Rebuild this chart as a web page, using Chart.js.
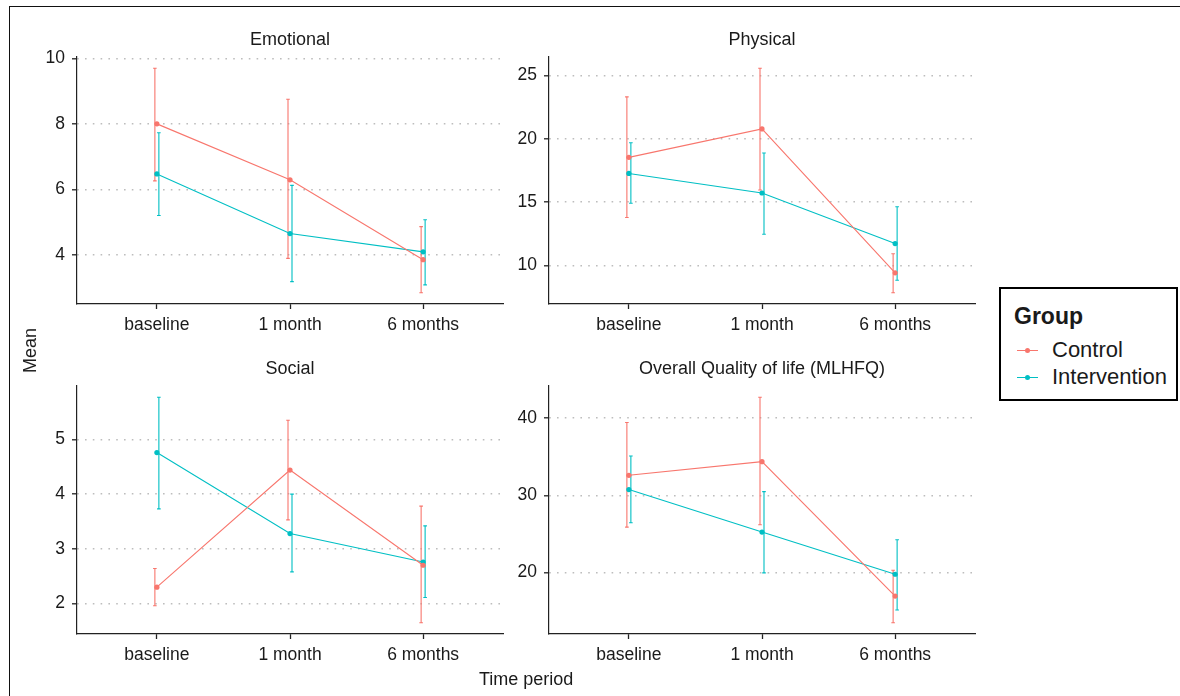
<!DOCTYPE html>
<html>
<head>
<meta charset="utf-8">
<script src="https://cdn.jsdelivr.net/npm/chart.js@4.4.1/dist/chart.umd.min.js"></script>
<style>
  body { margin: 0; background: #fff; width: 1180px; height: 696px; overflow: hidden; position: relative;
         font-family: "Liberation Sans", Arial, sans-serif; color: #1a1a1a; }
  canvas { position: absolute; }
  #frame { position: absolute; left: 9px; top: 6px; width: 1200px; height: 720px;
           border-left: 1.5px solid #111; border-top: 1.5px solid #111; }
  .axisTitle { position: absolute; font-size: 18px; white-space: nowrap; }
  #legend { position: absolute; left: 999px; top: 287px; width: 179px; height: 114px;
            box-sizing: border-box; border: 2px solid #000; background: #fff; }
  #legend .ttl { position: absolute; left: 13px; top: 14px; font-size: 23px; font-weight: bold; }
  #legend .item { position: absolute; left: 0; height: 26px; width: 175px; }
  #legend .ln { position: absolute; left: 16px; top: 12.5px; width: 21px; height: 1.3px; }
  #legend .dot { position: absolute; left: 23.5px; top: 10.5px; width: 5px; height: 5px; border-radius: 50%; }
  #legend .lbl { position: absolute; left: 51px; top: 0; font-size: 22px; line-height: 26px; }
</style>
</head>
<body>
<div id="frame"></div>
<canvas id="c1"></canvas>
<canvas id="c2"></canvas>
<canvas id="c3"></canvas>
<canvas id="c4"></canvas>
<div class="axisTitle" id="yTitle">Mean</div>
<div class="axisTitle" id="xTitle">Time period</div>
<div id="legend"><div class="ttl">Group</div></div>
<script>
// categories and groups
const categories = ['baseline', '1 month', '6 months'];
const groups = ['Control', 'Intervention'];
const groupColors = ['#F8766D', '#00BFC4'];
const panelTitles = ['Emotional', 'Physical', 'Social', 'Overall Quality of life (MLHFQ)'];

// Emotional
const emotionalControl = [8.0, 6.29, 3.85];
const emotionalControlLow = [6.26, 3.89, 2.84];
const emotionalControlHigh = [9.70, 8.75, 4.86];
const emotionalIntervention = [6.47, 4.65, 4.09];
const emotionalInterventionLow = [5.20, 3.18, 3.08];
const emotionalInterventionHigh = [7.73, 6.12, 5.07];
const emotionalTicks = [4, 6, 8, 10];

// Physical
const physicalControl = [18.54, 20.78, 9.43];
const physicalControlLow = [13.80, 15.96, 7.86];
const physicalControlHigh = [23.31, 25.57, 10.94];
const physicalIntervention = [17.27, 15.73, 11.74];
const physicalInterventionLow = [14.92, 12.47, 8.85];
const physicalInterventionHigh = [19.69, 18.88, 14.64];
const physicalTicks = [10, 15, 20, 25];

// Social
const socialControl = [2.30, 4.44, 2.70];
const socialControlLow = [1.96, 3.53, 1.65];
const socialControlHigh = [2.64, 5.35, 3.78];
const socialIntervention = [4.76, 3.28, 2.76];
const socialInterventionLow = [3.73, 2.58, 2.11];
const socialInterventionHigh = [5.77, 4.00, 3.42];
const socialTicks = [2, 3, 4, 5];

// Overall (MLHFQ)
const overallControl = [32.6, 34.37, 16.95];
const overallControlLow = [25.89, 26.19, 13.5];
const overallControlHigh = [39.44, 42.71, 20.3];
const overallIntervention = [30.75, 25.25, 19.78];
const overallInterventionLow = [26.45, 19.96, 15.14];
const overallInterventionHigh = [35.1, 30.49, 24.26];
const overallTicks = [20, 30, 40];

const FONT = '"Liberation Sans", Arial, sans-serif';
const TEXT = '#1a1a1a';
const AXIS = '#222';
const dodge = [-0.015, 0.015];

const panels = [
    { id: 'c1', title: panelTitles[0], ticks: emotionalTicks,
      means: [emotionalControl, emotionalIntervention],
      lows: [emotionalControlLow, emotionalInterventionLow],
      highs: [emotionalControlHigh, emotionalInterventionHigh],
      area: { left: 77, top: 57, right: 503, bottom: 304 } },
    { id: 'c2', title: panelTitles[1], ticks: physicalTicks,
      means: [physicalControl, physicalIntervention],
      lows: [physicalControlLow, physicalInterventionLow],
      highs: [physicalControlHigh, physicalInterventionHigh],
      area: { left: 549, top: 57, right: 975, bottom: 304 } },
    { id: 'c3', title: panelTitles[2], ticks: socialTicks,
      means: [socialControl, socialIntervention],
      lows: [socialControlLow, socialInterventionLow],
      highs: [socialControlHigh, socialInterventionHigh],
      area: { left: 77, top: 386, right: 503, bottom: 634 } },
    { id: 'c4', title: panelTitles[3], ticks: overallTicks,
      means: [overallControl, overallIntervention],
      lows: [overallControlLow, overallInterventionLow],
      highs: [overallControlHigh, overallInterventionHigh],
      area: { left: 549, top: 386, right: 975, bottom: 634 } },
];

// error bars drawn under the lines and points
const errorBars = {
    id: 'errorBars',
    beforeDatasetsDraw(chart) {
        const ctx = chart.ctx;
        const xs = chart.scales.x, ys = chart.scales.y;
        chart.data.datasets.forEach(ds => {
            ctx.save();
            ctx.strokeStyle = ds.borderColor;
            ctx.lineWidth = 1.1;
            ds.low.forEach((lo, j) => {
                const px = xs.getPixelForValue(j + ds.dodge);
                const top = ys.getPixelForValue(ds.high[j]);
                const bot = ys.getPixelForValue(lo);
                ctx.beginPath();
                ctx.moveTo(px, top); ctx.lineTo(px, bot);
                ctx.moveTo(px - 1.8, top); ctx.lineTo(px + 1.8, top);
                ctx.moveTo(px - 1.8, bot); ctx.lineTo(px + 1.8, bot);
                ctx.stroke();
            });
            ctx.restore();
        });
    }
};

function makePanel(p) {
    const canvas = document.getElementById(p.id);
    const w = (p.area.right - p.area.left) + 57 + 7;
    const h = (p.area.bottom - p.area.top) + 57 + 36;
    canvas.width = w; canvas.height = h;
    canvas.style.left = (p.area.left - 57) + 'px';
    canvas.style.top = (p.area.top - 57) + 'px';
    canvas.style.width = w + 'px'; canvas.style.height = h + 'px';

    // ggplot style 5% expansion around all error bars
    const all = p.lows.flat().concat(p.highs.flat());
    const lo = Math.min(...all), hi = Math.max(...all);
    const pad = (hi - lo) * 0.05;

    const datasets = groups.map((g, k) => ({
        label: g,
        data: categories.map((c, i) => ({ x: i, y: p.means[k][i] })),
        low: p.lows[k],
        high: p.highs[k],
        dodge: dodge[k],
        borderColor: groupColors[k],
        backgroundColor: groupColors[k],
        pointBackgroundColor: groupColors[k],
        borderWidth: 1.1,
        pointRadius: 2.6,
        pointBorderWidth: 0,
        tension: 0,
        fill: false
    }));

    new Chart(canvas, {
        type: 'line',
        data: { datasets: datasets },
        plugins: [errorBars],
        options: {
            responsive: false,
            animation: false,
            devicePixelRatio: 1,
            layout: { padding: { left: 0, right: 7, top: 0, bottom: 0 } },
            plugins: {
                legend: { display: false },
                tooltip: { enabled: false },
                title: {
                    display: true, text: p.title, fullSize: false, color: TEXT,
                    font: { size: 18, family: FONT, weight: 'normal' },
                    padding: { top: 29.2, bottom: 6.2 }
                }
            },
            scales: {
                x: {
                    type: 'linear', min: -0.6, max: 2.6,
                    afterBuildTicks: s => { s.ticks = categories.map((c, i) => ({ value: i })); },
                    afterFit: s => { s.height = 36; },
                    ticks: {
                        callback: v => categories[v], color: TEXT, padding: 5.5,
                        maxRotation: 0, autoSkip: false,
                        font: { size: 17.5, family: FONT }
                    },
                    grid: { drawOnChartArea: false, drawTicks: true, tickLength: 5,
                            tickColor: AXIS, tickWidth: 1.3 },
                    border: { color: AXIS, width: 1.2 }
                },
                y: {
                    type: 'linear', min: lo - pad, max: hi + pad,
                    afterBuildTicks: s => { s.ticks = p.ticks.map(v => ({ value: v })); },
                    afterFit: s => { s.width = 57; },
                    ticks: { color: TEXT, padding: 7, font: { size: 17.5, family: FONT } },
                    grid: { color: '#bdbdbd', lineWidth: 1.6,
                            drawTicks: true, tickLength: 5, tickColor: AXIS, tickWidth: 1.3,
                            tickBorderDash: [] },
                    // in v4 the grid line dash lives under border
                    border: { color: AXIS, width: 1.2, dash: [1.6, 6.2] }
                }
            }
        }
    });
}

panels.forEach(makePanel);

// axis titles
const yTitle = document.getElementById('yTitle');
yTitle.style.left = (30 - yTitle.offsetWidth / 2) + 'px';
yTitle.style.top = (350 - yTitle.offsetHeight / 2) + 'px';
yTitle.style.transform = 'rotate(-90deg)';
const xTitle = document.getElementById('xTitle');
xTitle.style.left = (526 - xTitle.offsetWidth / 2) + 'px';
xTitle.style.top = (679 - xTitle.offsetHeight / 2) + 'px';

// legend
const legend = document.getElementById('legend');
groups.forEach((g, k) => {
    const item = document.createElement('div');
    item.className = 'item';
    item.style.top = (48 + k * 27) + 'px';
    item.innerHTML = '<div class="ln" style="background:' + groupColors[k] + '"></div>' +
        '<div class="dot" style="background:' + groupColors[k] + '"></div>' +
        '<div class="lbl">' + g + '</div>';
    legend.appendChild(item);
});
</script>
</body>
</html>
